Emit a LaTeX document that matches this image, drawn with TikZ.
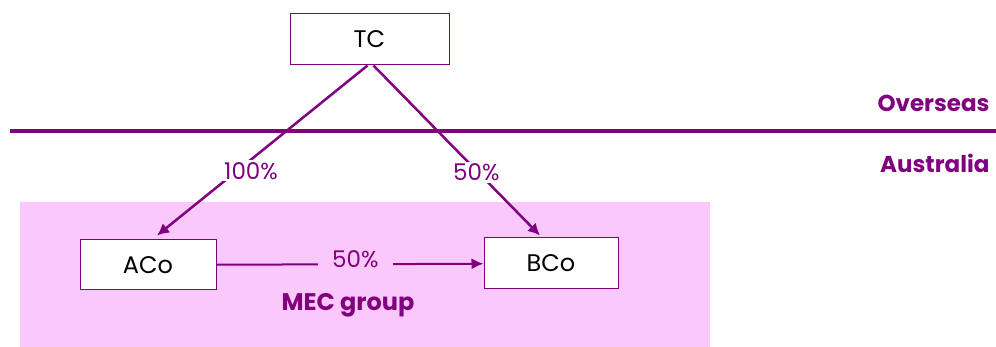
\documentclass[tikz,border=0pt]{standalone}
\usepackage{fontspec}
\setmainfont{Poppins}
\usetikzlibrary{arrows.meta}
\definecolor{mecpurple}{RGB}{128,0,128}
\definecolor{mecpink}{RGB}{251,200,251}
\tikzset{
  cobox/.style={draw=mecpurple,line width=1pt,fill=white,font=\fontsize{24}{28}\selectfont},
  pct/.style={text=mecpurple,inner sep=2pt,font=\fontsize{23}{26}\selectfont},
  zone/.style={text=mecpurple,anchor=east,font=\bfseries\fontsize{23}{26}\selectfont},
  own/.style={draw=mecpurple,line width=2.5pt,-{Latex[length=12pt,width=12pt]}}
}
\begin{document}
\begin{tikzpicture}[x=1pt,y=-1pt]
		\useasboundingbox (0,0) rectangle (996,347);
		\fill[mecpink] (20,202) rectangle (710,347);
		
		\coordinate (west) at (10,131);
		\coordinate (east) at (996,131);
		\draw[mecpurple,line width=4.5pt] (west) -- (east);
		
		\node[cobox,minimum width=159pt,minimum height=51pt] (tc) at (369.5,39.5) {TC};
		\node[cobox,minimum width=136pt,minimum height=50pt] (aco) at (148,265) {ACo};
		\node[cobox,minimum width=134pt,minimum height=51pt] (bco) at (551,263.5) {BCo};
		
		\node[zone] (overseas) at (993,103) {Overseas};
		\node[zone] (australia) at (993,163) {Australia};
		\node[text=mecpurple,font=\bfseries\fontsize{24}{28}\selectfont] (mec) at (348,305) {MEC group};
		
		\coordinate (acotip) at ([xshift=9pt,yshift=4pt]aco.north);
		\coordinate (bcotip) at ([xshift=-11pt,yshift=2pt]bco.north);
		
		\draw[own] ([xshift=-2pt]tc.south) -- node[pct,fill=white,pos=0.62,xshift=14pt] (p1) {100\%} (acotip);
		\draw[own] ([xshift=4pt]tc.south) -- node[pct,fill=white,pos=0.63,xshift=-2pt] (p2) {50\%} (bcotip);
		\draw[mecpurple,line width=2pt,-{Latex[length=12pt,width=11pt]}] (aco) -- node[pct,fill=mecpink,inner xsep=14pt,pos=0.52,yshift=5pt] (p3) {50\%} (bco);
		
\end{tikzpicture}
\end{document}
